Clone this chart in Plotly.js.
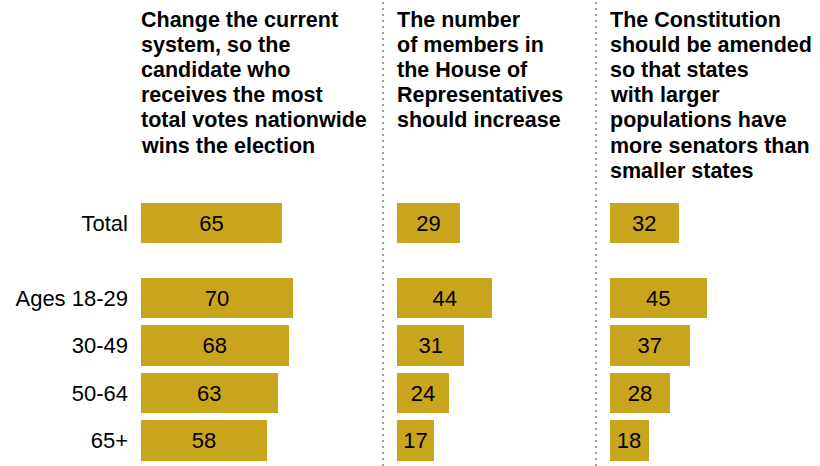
<!DOCTYPE html>
<html>
<head>
<meta charset="utf-8">
<script src="https://cdn.plot.ly/plotly-3.0.1.min.js"></script>
<style>html,body{margin:0;padding:0;background:#fff}#chart{width:820px;height:466px}</style>
</head>
<body>
<div id="chart"></div>
<script>
const groups = ['Total', 'Ages 18-29', '30-49', '50-64', '65+'];
const changeSystem = [65, 70, 68, 63, 58];
const houseIncrease = [29, 44, 31, 24, 17];
const senateAmend = [32, 45, 37, 28, 18];
const headers = [
  ['Change the current', 'system, so the', 'candidate who', 'receives the most', 'total votes nationwide', 'wins the election'],
  ['The number', 'of members in', 'the House of', 'Representatives', 'should increase'],
  ['The Constitution', 'should be amended', 'so that states', 'with larger', 'populations have', 'more senators than', 'smaller states']
];

const W = 820, H = 466;
const barColor = '#C9A51E';
const FONT = 'Liberation Sans, Arial, sans-serif';
// row positions (gap after Total)
const rowPos = groups.map((g, i) => i === 0 ? 0 : i + 0.579);

const series = [changeSystem, houseIncrease, senateAmend];
const axisIds = ['x', 'x2', 'x3'];
const panelStart = [141, 397, 609.5];
const pxPerUnit = 2.17;
const xMax = 80;

const traces = series.map((vals, k) => ({
  type: 'bar',
  orientation: 'h',
  x: vals,
  y: rowPos,
  xaxis: axisIds[k],
  yaxis: 'y',
  width: 0.85,
  marker: {color: barColor, line: {width: 0}},
  text: vals.map(String),
  textposition: 'inside',
  insidetextanchor: 'middle',
  textangle: 0,
  constraintext: 'none',
  insidetextfont: {family: FONT, size: 22, color: '#000'},
  hoverinfo: 'skip',
  showlegend: false
}));

const annotations = [];
headers.forEach((lines, k) => {
  lines.forEach((line, j) => {
    annotations.push({
      text: line,
      xref: 'paper', yref: 'paper',
      x: (panelStart[k] - 2) / W, y: 1 - (19.5 + j * 25.2) / H,
      xanchor: 'left', yanchor: 'middle',
      align: 'left',
      showarrow: false,
      font: {family: FONT, size: 21.5, color: '#000', weight: 'bold'}
    });
  });
});

const layout = {
  width: W, height: H,
  margin: {l: 0, r: 0, t: 0, b: 0},
  paper_bgcolor: '#fff', plot_bgcolor: '#fff',
  bargap: 0,
  yaxis: {
    domain: [(H - 464.25) / H, (H - 199.25) / H],
    range: [5.079, -0.5],
    tickvals: rowPos,
    ticktext: groups,
    ticks: '',
    showgrid: false, zeroline: false, showline: false,
    ticklabelstandoff: 12,
    tickfont: {family: FONT, size: 22, color: '#000'},
    anchor: 'x'
  },
  annotations: annotations,
  shapes: [383, 596].map(px => ({
    type: 'line', xref: 'paper', yref: 'paper',
    x0: px / W, x1: px / W, y0: 0, y1: 1,
    line: {color: '#808080', width: 1.5, dash: '2px,4px'}
  }))
};
axisIds.forEach((id, k) => {
  const name = id === 'x' ? 'xaxis' : 'xaxis' + id.slice(1);
  layout[name] = {
    domain: [panelStart[k] / W, (panelStart[k] + xMax * pxPerUnit) / W],
    range: [0, xMax],
    visible: false,
    anchor: 'y',
    fixedrange: true
  };
});

Plotly.newPlot('chart', traces, layout, {displayModeBar: false, staticPlot: true});
</script>
</body>
</html>
